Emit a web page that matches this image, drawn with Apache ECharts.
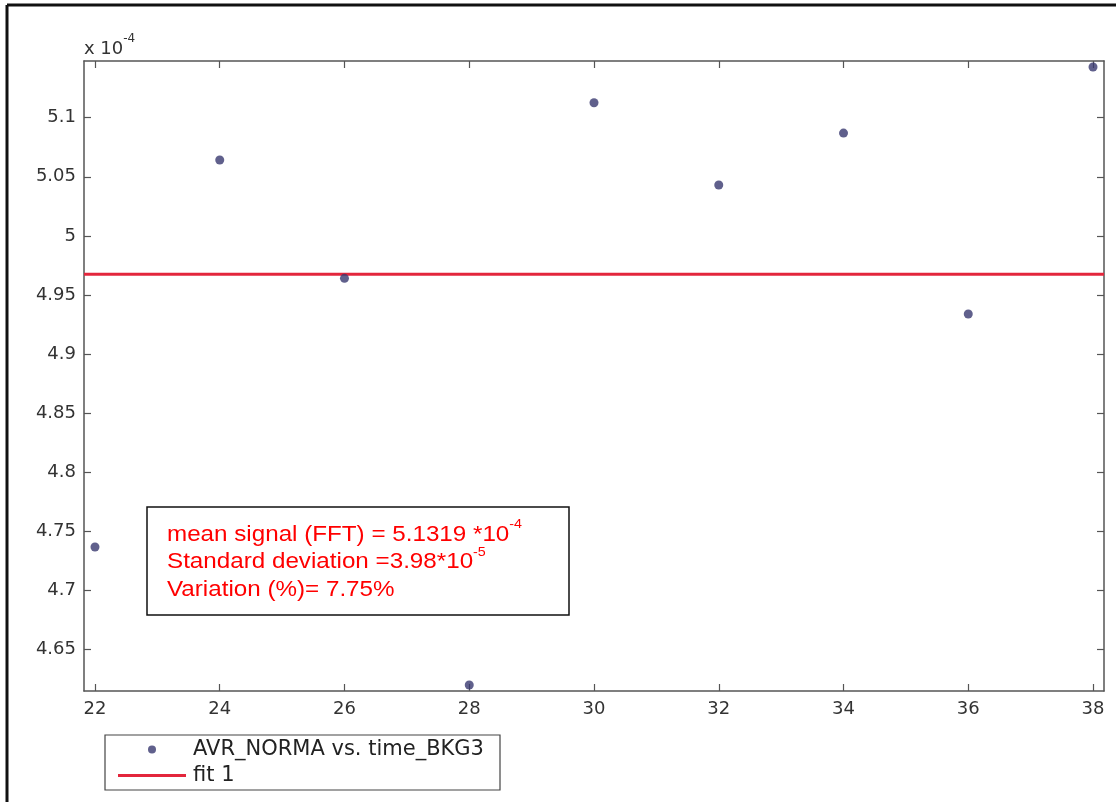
<!DOCTYPE html>
<html>
<head>
<meta charset="utf-8">
<script src="https://cdn.jsdelivr.net/npm/echarts@6/dist/echarts.min.js"></script>
<style>
html,body{margin:0;padding:0;background:#fff;}
#chart{width:1116px;height:802px;}
</style>
</head>
<body>
<div id="chart"></div>
<script>
// Data (y values in units of 1e-4)
var times = [22, 24, 26, 28, 30, 32, 34, 36, 38];
var avrNorma = [4.7366, 5.0642, 4.964, 4.6198, 5.1127, 5.043, 5.087, 4.9338, 5.1429];
var fitValue = 4.9675;
var xTicks = [22, 24, 26, 28, 30, 32, 34, 36, 38];
var yTicks = [4.65, 4.7, 4.75, 4.8, 4.85, 4.9, 4.95, 5, 5.05, 5.1];
var xMin = 21.824, xMax = 38.176;
var yMin = 4.6147, yMax = 5.148;
var seriesNames = ['AVR_NORMA vs. time_BKG3', 'fit 1'];

var font = '"DejaVu Sans", "Liberation Sans", Arial, sans-serif';
var arial = '"Liberation Sans", Arial, Helvetica, sans-serif';
var axisColor = '#555';
var scatterColor = '#38386f';
var fitColor = '#e3263c';
var scatterData = times.map(function (t, i) { return [t, avrNorma[i]]; });
var fitData = [[xMin, fitValue], [xMax, fitValue]];

var chart = echarts.init(document.getElementById('chart'), null, {renderer: 'canvas'});

function xAxisDef(pos, showLabel) {
  return {
    type: 'value', position: pos, min: xMin, max: xMax,
    axisLine: {show: true, onZero: false, lineStyle: {color: axisColor, width: 1.5}},
    axisTick: {show: true, inside: true, length: 7, customValues: xTicks, lineStyle: {color: axisColor, width: 1.2}},
    axisLabel: {show: showLabel, customValues: xTicks, margin: 9, fontSize: 18, color: '#333', fontFamily: font},
    splitLine: {show: false}
  };
}
function yAxisDef(pos, showLabel) {
  return {
    type: 'value', position: pos, min: yMin, max: yMax,
    axisLine: {show: true, onZero: false, lineStyle: {color: axisColor, width: 1.5}},
    axisTick: {show: true, inside: true, length: 7, customValues: yTicks, lineStyle: {color: axisColor, width: 1.2}},
    axisLabel: {show: showLabel, customValues: yTicks, margin: 8, fontSize: 18, color: '#333', fontFamily: font,
      formatter: function (v) { return String(+Number(v).toFixed(2)); }},
    splitLine: {show: false}
  };
}

var option = {
  backgroundColor: '#fff',
  animation: false,
  grid: {left: 84, top: 61, right: 12, bottom: 111, containLabel: false},
  xAxis: [xAxisDef('bottom', true), xAxisDef('top', false)],
  yAxis: [yAxisDef('left', true), yAxisDef('right', false)],
  legend: [
    {
      orient: 'vertical', left: 148, top: 739, padding: 0,
      itemWidth: 8, itemHeight: 8, itemGap: 0, selectedMode: false,
      textStyle: {fontSize: 21, color: '#222', fontFamily: font, padding: [0, 0, 0, 32]},
      data: [{name: seriesNames[0], icon: 'circle'}]
    },
    {
      orient: 'vertical', left: 118, top: 765, padding: 0,
      itemWidth: 68, itemHeight: 3, itemGap: 0, selectedMode: false,
      textStyle: {fontSize: 21, color: '#222', fontFamily: font, padding: [0, 0, 0, 2]},
      data: [{name: seriesNames[1], icon: 'rect', itemStyle: {color: fitColor}}]
    }
  ],
  series: [
    {
      name: seriesNames[1], type: 'line', data: fitData, xAxisIndex: 0, yAxisIndex: 0,
      showSymbol: false, symbol: 'none', lineStyle: {color: fitColor, width: 3}, itemStyle: {color: fitColor}, z: 2
    },
    {
      name: seriesNames[0], type: 'scatter', data: scatterData, xAxisIndex: 0, yAxisIndex: 0,
      symbol: 'circle', symbolSize: 9, itemStyle: {color: scatterColor}, z: 3
    }
  ],
  graphic: [
    {type: 'line', shape: {x1: 7, y1: 5, x2: 1116, y2: 5}, style: {stroke: '#111', lineWidth: 3}, z: 10},
    {type: 'line', shape: {x1: 7, y1: 5, x2: 7, y2: 802}, style: {stroke: '#111', lineWidth: 3}, z: 10},
    {
      type: 'rect', shape: {x: 105, y: 735, width: 395, height: 55}, z: -1, silent: true,
      style: {fill: '#fff', stroke: '#444', lineWidth: 1.2}
    },
    {
      type: 'text', left: 84, top: 33, z: 10,
      style: {
        text: '{a|x 10}{b|-4}',
        rich: {
          a: {fontSize: 18, fontFamily: font, fill: '#333', lineHeight: 25, verticalAlign: 'bottom'},
          b: {fontSize: 12, fontFamily: font, fill: '#333', verticalAlign: 'top', lineHeight: 25}
        }
      }
    },
    {
      type: 'rect', shape: {x: 147, y: 507, width: 422, height: 108}, z: 10,
      style: {fill: '#fff', stroke: '#111', lineWidth: 1.5}
    },
    {
      type: 'text', x: 167, y: 518, scaleX: 1.1, z: 11,
      style: {
        text: '{a|mean signal (FFT) = 5.1319 *10}{b|-4}\n{a|Standard deviation =3.98*10}{b|-5}\n{a|Variation (%)= 7.75%}',
        rich: {
          a: {fontSize: 22, fontFamily: arial, fill: '#ff0000', lineHeight: 27.5, verticalAlign: 'bottom'},
          b: {fontSize: 13, fontFamily: arial, fill: '#ff0000', lineHeight: 27.5, verticalAlign: 'top'}
        }
      }
    }
  ]
};
chart.setOption(option);
</script>
</body>
</html>
